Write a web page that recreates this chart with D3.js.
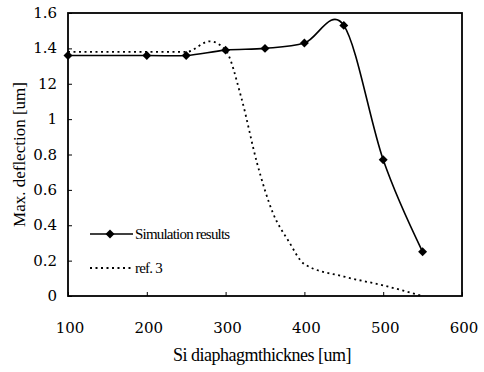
<!DOCTYPE html>
<html>
<head>
<meta charset="utf-8">
<script src="https://cdn.jsdelivr.net/npm/d3@7"></script>
<style>
  body { margin: 0; background: #fff; }
  text { font-family: "Liberation Serif", "Times New Roman", serif; fill: #000; }
</style>
</head>
<body>
<div id="container"></div>
<script>
// simulation results (diamond markers)
var simX = [100, 200, 250, 300, 350, 400, 450, 500, 550];
var simY = [1.36, 1.36, 1.36, 1.39, 1.40, 1.43, 1.53, 0.77, 0.25];

// ref. 3 (dotted)
var refX = [100, 150, 200, 250, 280, 300, 320, 340, 360, 380, 400, 450, 500, 550];
var refY = [1.38, 1.38, 1.38, 1.38, 1.44, 1.39, 1.12, 0.75, 0.47, 0.31, 0.18, 0.11, 0.06, 0.0];

var xTicks = [100, 200, 300, 400, 500, 600];
var yTicks = [0, 0.2, 0.4, 0.6, 0.8, 1, 1.2, 1.4, 1.6];
var yTickLabels = ["0", "0.2", "0.4", "0.6", "0.8", "1", "12", "1.4", "1.6"];

var width = 484,
	height = 372,
	plotL = 68, plotR = 462, plotT = 13, plotB = 296;

var svg = d3.select("#container")
	.append("svg")
		.attr("width", width)
		.attr("height", height);

var xScale = d3.scaleLinear().domain([100, 600]).range([plotL, plotR]);
var yScale = d3.scaleLinear().domain([0, 1.6]).range([plotB, plotT]);

// plot frame
svg.append("rect")
	.attr("x", plotL).attr("y", plotT)
	.attr("width", plotR - plotL).attr("height", plotB - plotT)
	.style("fill", "none").style("stroke", "#000").style("stroke-width", 1.8);

// axes with inward ticks
var xAxis = d3.axisBottom(xScale).tickValues(xTicks).tickSize(-4).tickFormat("");
var yAxis = d3.axisLeft(yScale).tickValues(yTicks).tickSize(-4).tickFormat("");
svg.append("g").attr("transform", "translate(0," + plotB + ")").call(xAxis)
	.call(function(g){ g.select(".domain").remove(); });
svg.append("g").attr("transform", "translate(" + plotL + ",0)").call(yAxis)
	.call(function(g){ g.select(".domain").remove(); });
svg.selectAll(".tick line").style("stroke", "#000").style("stroke-width", 1);

// tick labels
svg.selectAll(".xlab")
	.data(xTicks)
	.enter().append("text")
		.attr("x", function(d){ return xScale(d) + 2; })
		.attr("y", 333)
		.attr("text-anchor", "middle")
		.style("font-family", "'DejaVu Serif', serif")
		.style("font-size", "15px")
		.text(function(d){ return d; });

svg.selectAll(".ylab")
	.data(yTicks)
	.enter().append("text")
		.attr("x", 57)
		.attr("y", function(d){ return yScale(d) + 5; })
		.attr("text-anchor", "end")
		.style("font-family", "'DejaVu Serif', serif")
		.style("font-size", "15px")
		.text(function(d, i){ return yTickLabels[i]; });

// axis titles
svg.append("text")
	.attr("x", 262)
	.attr("y", 361)
	.attr("text-anchor", "middle")
	.style("font-size", "18px")
	.style("letter-spacing", "-0.5px")
	.text("Si diaphagmthicknes [um]");

svg.append("text")
	.attr("transform", "translate(25," + (plotT + plotB) / 2 + ") rotate(-90)")
	.attr("text-anchor", "middle")
	.style("font-size", "17px")
	.text("Max. deflection [um]");

// lines
var simLine = d3.line()
	.x(function(d){ return xScale(d[0]); })
	.y(function(d){ return yScale(d[1]); })
	.curve(d3.curveCardinal.tension(0));

var refLine = d3.line()
	.x(function(d){ return xScale(d[0]); })
	.y(function(d){ return yScale(d[1]); })
	.curve(d3.curveMonotoneX);

svg.append("path")
	.datum(d3.zip(refX, refY))
	.attr("d", refLine)
	.style("fill", "none").style("stroke", "#000")
	.style("stroke-width", 1.8).style("stroke-dasharray", "2,3.5");

svg.append("path")
	.datum(d3.zip(simX, simY))
	.attr("d", simLine)
	.style("fill", "none").style("stroke", "#000").style("stroke-width", 1.6);

// square turned 45 degrees, like the Excel diamond
var diamond = d3.symbol().type(d3.symbolSquare).size(40);
svg.selectAll(".pt")
	.data(d3.zip(simX, simY))
	.enter().append("path")
		.attr("d", diamond)
		.attr("transform", function(d){ return "translate(" + xScale(d[0]) + "," + yScale(d[1]) + ") rotate(45)"; })
		.style("fill", "#000");

// legend
svg.append("line")
	.attr("x1", 90).attr("x2", 133).attr("y1", 234).attr("y2", 234)
	.style("stroke", "#000").style("stroke-width", 1.6);
svg.append("path")
	.attr("d", diamond)
	.attr("transform", "translate(110,234) rotate(45)")
	.style("fill", "#000");
svg.append("text")
	.attr("x", 135).attr("y", 239)
	.style("font-size", "15px").style("letter-spacing", "-0.8px")
	.text("Simulation results");

svg.append("line")
	.attr("x1", 90).attr("x2", 133).attr("y1", 268).attr("y2", 268)
	.style("stroke", "#000").style("stroke-width", 1.8).style("stroke-dasharray", "2,3.5");
svg.append("text")
	.attr("x", 135).attr("y", 273)
	.style("font-size", "15px").style("letter-spacing", "-0.8px")
	.text("ref. 3");
</script>
</body>
</html>
